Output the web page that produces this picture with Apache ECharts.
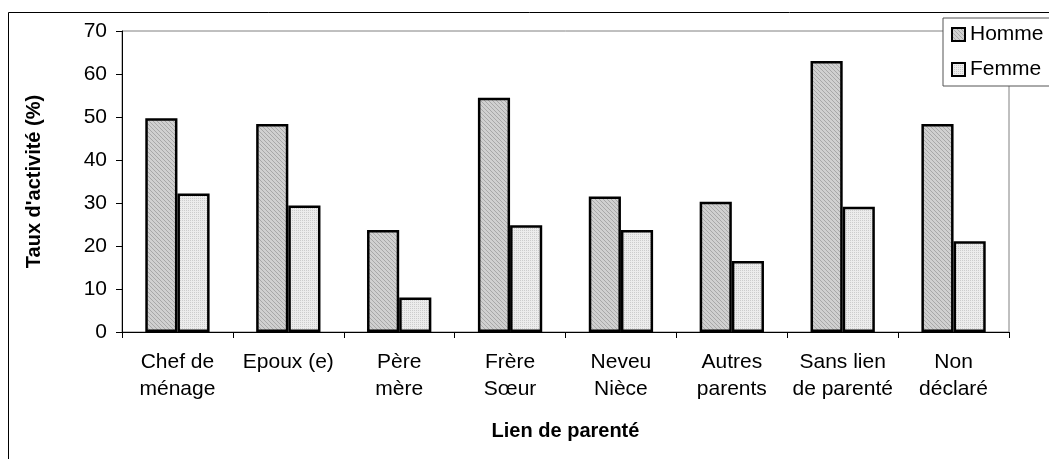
<!DOCTYPE html>
<html>
<head>
<meta charset="utf-8">
<script src="https://cdn.jsdelivr.net/npm/echarts@6/dist/echarts.min.js"></script>
<style>
  html, body { margin: 0; padding: 0; background: #fff; }
  #main { width: 1049px; height: 459px; }
</style>
</head>
<body>
<div id="main"></div>
<script>
// données
var categories = ["Chef de\nménage", "Epoux (e)", "Père\nmère", "Frère\nSœur", "Neveu\nNièce", "Autres\nparents", "Sans lien\nde parenté", "Non\ndéclaré"];
var homme = [49.7, 48.4, 23.7, 54.5, 31.5, 30.3, 63.0, 48.4];
var femme = [32.2, 29.4, 8.0, 24.8, 23.7, 16.5, 29.1, 21.1];
var yTicks = [0, 10, 20, 30, 40, 50, 60, 70];

// petits motifs de remplissage façon Excel
function makePattern(bg, fg, cells) {
  var c = document.createElement("canvas");
  c.width = 4;
  c.height = 4;
  var ctx = c.getContext("2d");
  ctx.fillStyle = bg;
  ctx.fillRect(0, 0, 4, 4);
  ctx.fillStyle = fg;
  cells.forEach(function (p) { ctx.fillRect(p[0], p[1], 1, 1); });
  return { image: c, repeat: "repeat" };
}
var hatchHomme = makePattern("#d0d0d0", "#a8a8a8", [[0, 0], [1, 1], [2, 2], [3, 3]]);
var dotsFemme = makePattern("#ececec", "#cccccc", [[0, 0], [2, 0], [0, 2], [2, 2]]);

var font = "Arial, 'Liberation Sans', sans-serif";
var chart = echarts.init(document.getElementById("main"));
chart.setOption({
  animation: false,
  backgroundColor: "#fff",
  textStyle: { fontFamily: font },
  graphic: [{
    type: "rect",
    shape: { x: 8.5, y: 12.5, width: 1200, height: 600 },
    style: { fill: null, stroke: "#000", lineWidth: 1 },
    z: -1
  }],
  grid: {
    left: 122, right: 40, top: 31, bottom: 127,
    show: true, borderColor: "#808080", borderWidth: 1, backgroundColor: "transparent"
  },
  legend: {
    orient: "vertical",
    left: 943, top: 18,
    padding: [6, 80, 6, 8],
    itemGap: 14,
    itemWidth: 13, itemHeight: 13,
    icon: "rect",
    borderColor: "#555", borderWidth: 1, backgroundColor: "#fff",
    textStyle: { fontSize: 21, color: "#000", lineHeight: 21 },
    data: ["Homme", "Femme"]
  },
  xAxis: {
    type: "category",
    data: categories,
    name: "Lien de parenté",
    nameLocation: "middle",
    nameGap: 89,
    nameTextStyle: { fontSize: 20, fontWeight: "bold", color: "#000" },
    axisLine: { lineStyle: { color: "#000", width: 1 } },
    axisTick: { show: true, length: 6, lineStyle: { color: "#000" } },
    axisLabel: { fontSize: 21, color: "#000", lineHeight: 27, margin: 17, interval: 0 },
    splitLine: { show: false }
  },
  yAxis: {
    type: "value",
    min: yTicks[0], max: yTicks[yTicks.length - 1], interval: 10,
    name: "Taux d'activité (%)",
    nameLocation: "middle",
    nameGap: 78,
    nameTextStyle: { fontSize: 20, fontWeight: "bold", color: "#000" },
    axisLine: { show: true, lineStyle: { color: "#000", width: 1 } },
    axisTick: { show: true, length: 6, lineStyle: { color: "#000" } },
    axisLabel: { fontSize: 21, color: "#000", margin: 15 },
    splitLine: { show: false }
  },
  series: [
    {
      name: "Homme", type: "bar", data: homme,
      barGap: "0%", barCategoryGap: "42%",
      itemStyle: { color: hatchHomme, borderColor: "#000", borderWidth: 2.5 }
    },
    {
      name: "Femme", type: "bar", data: femme,
      barGap: "0%", barCategoryGap: "42%",
      itemStyle: { color: dotsFemme, borderColor: "#000", borderWidth: 2.5 }
    }
  ]
});
</script>
</body>
</html>
